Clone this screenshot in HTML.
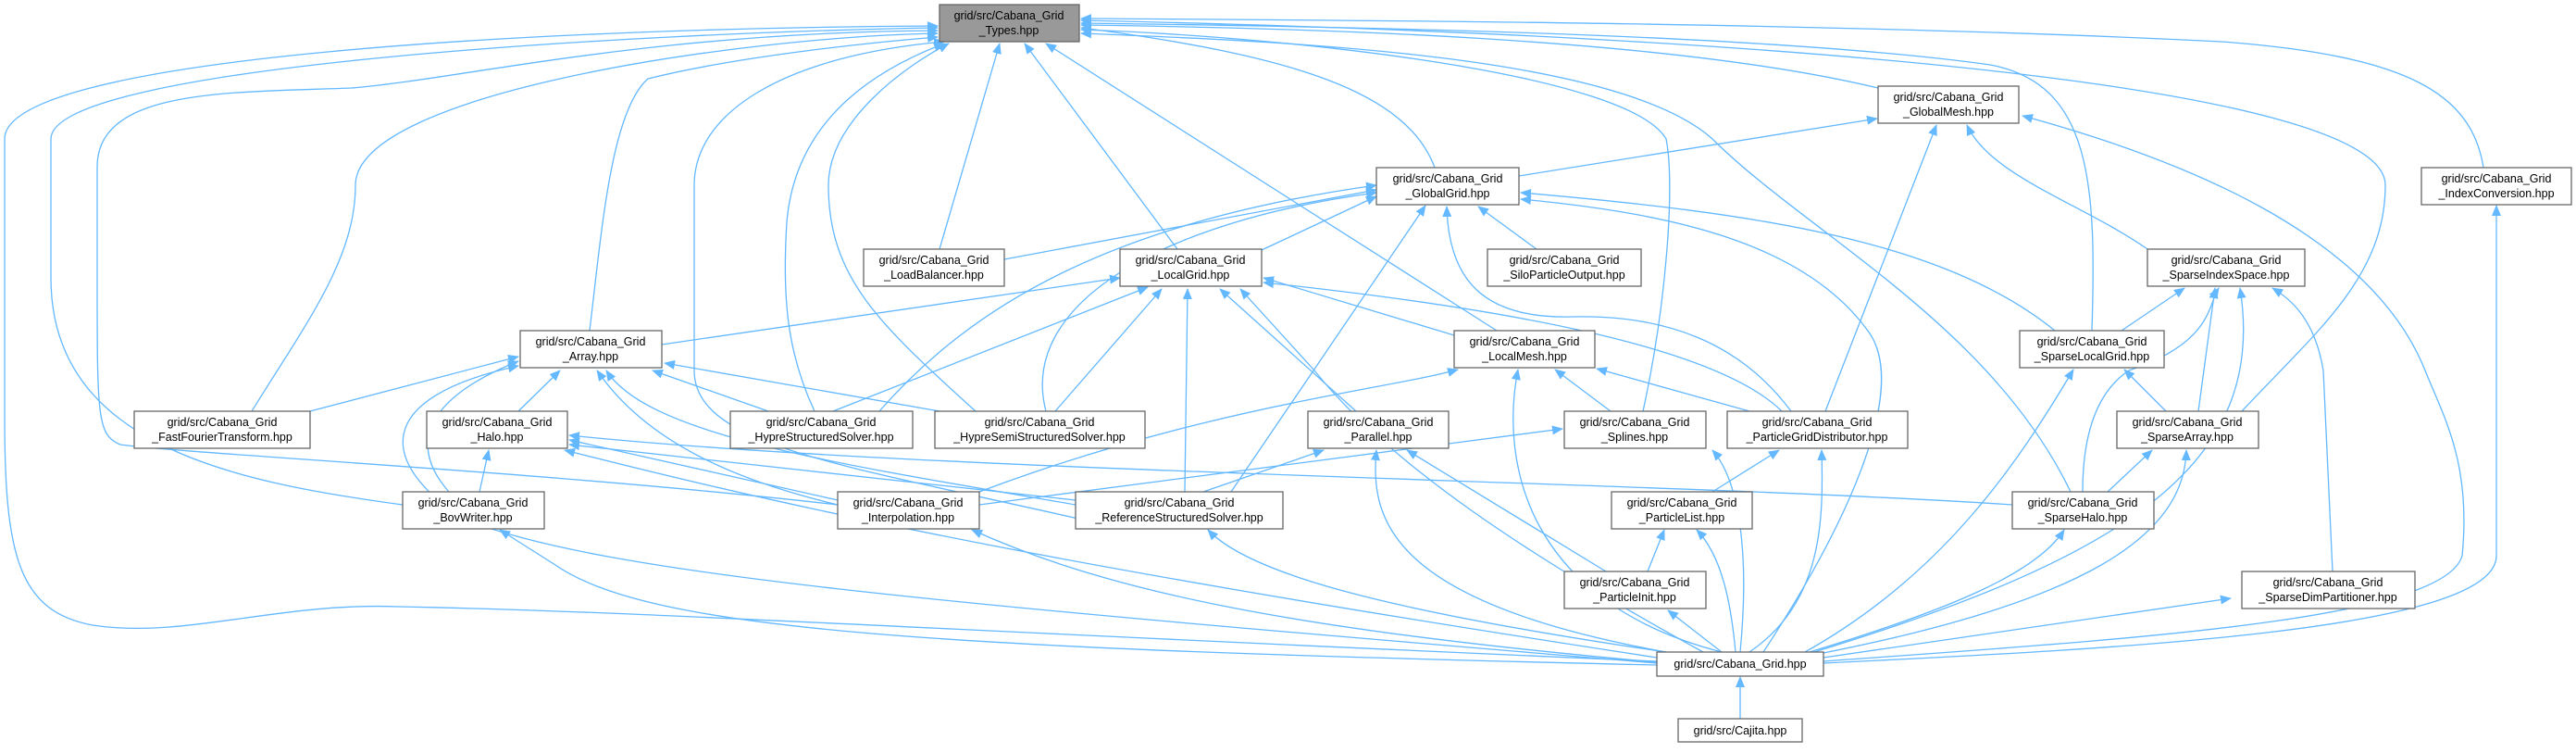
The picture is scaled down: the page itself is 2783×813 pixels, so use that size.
<!DOCTYPE html>
<html><head><meta charset="utf-8"><style>
html,body{margin:0;padding:0;background:#fff;}
svg{display:block}
text{font-family:"Liberation Sans","DejaVu Sans",sans-serif;font-size:12.5px;fill:#000;text-anchor:middle}
.e{fill:none;stroke:#63b8ff;stroke-width:1.3}
.n{fill:#fff;stroke:#666;stroke-width:1.3}
</style></head><body>
<svg width="2783" height="813" viewBox="0 0 2783 813" xmlns="http://www.w3.org/2000/svg">
<defs><marker id="a" markerWidth="12" markerHeight="10" refX="11" refY="5" orient="auto" markerUnits="userSpaceOnUse"><path d="M0,0 L12,5 L0,10 z" fill="#63b8ff"/></marker></defs>
<g class="e" marker-end="url(#a)">
<path d="M1790,714 C1000,680 700,660 430,655 C300,650 200,690 100,675 C20,660 5,600 5,450 L5,150 C5,60 600,30 1013,28"/>
<path d="M435,545 C250,520 55,480 55,300 L55,150 C55,70 700,35 1013,30"/>
<path d="M905,545 C600,510 200,490 130,480 C105,470 105,450 105,300 L105,180 C105,95 250,100 380,95 C500,85 700,35 1013,33"/>
<path d="M272,444 C330,350 384,280 384,200 C384,100 800,40 1013,36"/>
<path d="M637,357 C650,250 660,120 700,85 C800,60 950,45 1013,40"/>
<path d="M1165,560 C900,500 750,480 750,400 L750,200 C750,120 850,60 1020,45"/>
<path d="M880,444 C850,380 845,320 850,240 C860,120 960,70 1020,47"/>
<path d="M1054,444 C950,350 895,300 895,200 C895,130 980,70 1025,47"/>
<path d="M1015,269 L1080,47"/>
<path d="M1272,269 L1107,47"/>
<path d="M1617,357 L1130,47"/>
<path d="M1550,181 C1520,100 1400,60 1168,30"/>
<path d="M1775,444 C1800,330 1810,200 1800,150 C1760,80 1400,40 1168,32"/>
<path d="M2237,531 C2150,350 1950,250 1850,150 C1750,60 1400,45 1168,36"/>
<path d="M2029,95 C1800,40 1400,30 1168,27"/>
<path d="M2260,357 C2265,200 2260,90 2150,70 C1900,35 1400,28 1168,25"/>
<path d="M2422,444 C2500,360 2577,300 2577,200 C2577,100 2000,40 1168,22"/>
<path d="M2683,181 C2670,100 2600,60 2400,45 C2000,25 1500,22 1168,20"/>
<path d="M1641,190 L2028,128"/>
<path d="M1972,444 L2092,135"/>
<path d="M2320,269 C2250,220 2150,190 2125,135"/>
<path d="M1970,714 C2300,690 2640,670 2660,600 C2670,500 2640,450 2620,400 C2560,250 2350,170 2185,125"/>
<path d="M1970,716 C2300,700 2697,680 2697,600 L2697,222"/>
<path d="M1085,280 L1487,205"/>
<path d="M1363,270 L1487,212"/>
<path d="M950,444 C1050,330 1200,240 1487,200"/>
<path d="M1130,444 C1100,330 1250,240 1487,208"/>
<path d="M1330,531 L1540,222"/>
<path d="M1660,269 L1597,223"/>
<path d="M1935,444 C1880,370 1800,340 1700,342 C1600,345 1565,300 1563,223"/>
<path d="M2220,357 C2100,260 1900,230 1643,208"/>
<path d="M1905,704 C2000,560 2060,420 2020,360 C1950,260 1800,230 1643,215"/>
<path d="M715,372 L1210,300"/>
<path d="M900,444 L1240,310"/>
<path d="M1140,444 L1255,312"/>
<path d="M1280,531 L1283,312"/>
<path d="M1465,444 L1318,312"/>
<path d="M1571,362 L1365,300"/>
<path d="M1925,444 C1850,370 1600,330 1365,305"/>
<path d="M1840,704 C1650,600 1500,500 1420,400 L1340,312"/>
<path d="M335,444 L560,385"/>
<path d="M560,444 L605,400"/>
<path d="M485,531 C440,480 460,430 560,390"/>
<path d="M830,444 L705,400"/>
<path d="M1015,444 L718,392"/>
<path d="M905,545 C800,520 700,480 645,400"/>
<path d="M1162,545 C900,500 700,470 655,400"/>
<path d="M1790,716 C1000,650 650,620 500,560 C410,500 400,430 560,395"/>
<path d="M518,531 L528,486"/>
<path d="M905,540 L615,475"/>
<path d="M1162,540 L615,480"/>
<path d="M2174,545 C1800,520 1000,510 615,470"/>
<path d="M1790,710 C1200,620 900,560 610,486"/>
<path d="M1740,444 L1680,399"/>
<path d="M1890,444 L1725,398"/>
<path d="M1860,704 C1650,650 1620,500 1640,399"/>
<path d="M1058,531 C1300,440 1500,420 1575,399"/>
<path d="M1058,545 L1688,463"/>
<path d="M1880,704 C1890,600 1880,520 1850,486"/>
<path d="M1300,531 L1430,486"/>
<path d="M1735,617 L1520,486"/>
<path d="M1800,704 C1500,650 1480,560 1487,486"/>
<path d="M1850,531 L1922,486"/>
<path d="M1890,704 C1970,650 1970,560 1968,486"/>
<path d="M1780,617 L1798,572"/>
<path d="M1875,704 C1870,650 1860,600 1833,572"/>
<path d="M1860,704 L1802,659"/>
<path d="M2292,357 L2360,311"/>
<path d="M2375,444 L2393,311"/>
<path d="M2250,531 C2250,460 2270,420 2300,400 C2390,370 2385,330 2397,311"/>
<path d="M1960,704 C2300,600 2450,500 2420,311"/>
<path d="M2520,617 L2510,400 C2500,340 2470,320 2455,311"/>
<path d="M2340,444 L2295,399"/>
<path d="M1950,704 C2100,620 2180,500 2240,399"/>
<path d="M2277,531 L2325,486"/>
<path d="M1965,706 C2250,650 2360,580 2362,486"/>
<path d="M1955,704 C2100,660 2200,620 2230,572"/>
<path d="M1970,710 L2410,646"/>
<path d="M1790,718 C1000,700 700,680 600,610 L540,572"/>
<path d="M1790,715 C1400,680 1200,640 1050,572"/>
<path d="M1800,704 C1500,660 1350,620 1305,572"/>
<path d="M1880,776 L1880,731"/>
</g>
<g>
<rect x="1015" y="5" width="151" height="40" fill="#999" stroke="#666" stroke-width="1.3"/><text x="1090" y="21">grid/src/Cabana_Grid</text><text x="1090" y="37">_Types.hpp</text>
<rect class="n" x="933" y="269" width="152" height="40"/><text x="1009" y="285">grid/src/Cabana_Grid</text><text x="1009" y="301">_LoadBalancer.hpp</text>
<rect class="n" x="1210" y="269" width="153" height="40"/><text x="1286" y="285">grid/src/Cabana_Grid</text><text x="1286" y="301">_LocalGrid.hpp</text>
<rect class="n" x="562" y="357" width="153" height="40"/><text x="638" y="373">grid/src/Cabana_Grid</text><text x="638" y="389">_Array.hpp</text>
<rect class="n" x="2029" y="93" width="152" height="40"/><text x="2105" y="109">grid/src/Cabana_Grid</text><text x="2105" y="125">_GlobalMesh.hpp</text>
<rect class="n" x="1487" y="181" width="154" height="40"/><text x="1564" y="197">grid/src/Cabana_Grid</text><text x="1564" y="213">_GlobalGrid.hpp</text>
<rect class="n" x="2616" y="181" width="162" height="40"/><text x="2697" y="197">grid/src/Cabana_Grid</text><text x="2697" y="213">_IndexConversion.hpp</text>
<rect class="n" x="1607" y="269" width="166" height="40"/><text x="1690" y="285">grid/src/Cabana_Grid</text><text x="1690" y="301">_SiloParticleOutput.hpp</text>
<rect class="n" x="2320" y="269" width="170" height="40"/><text x="2405" y="285">grid/src/Cabana_Grid</text><text x="2405" y="301">_SparseIndexSpace.hpp</text>
<rect class="n" x="1571" y="357" width="152" height="40"/><text x="1647" y="373">grid/src/Cabana_Grid</text><text x="1647" y="389">_LocalMesh.hpp</text>
<rect class="n" x="2182" y="357" width="156" height="40"/><text x="2260" y="373">grid/src/Cabana_Grid</text><text x="2260" y="389">_SparseLocalGrid.hpp</text>
<rect class="n" x="145" y="444" width="190" height="40"/><text x="240" y="460">grid/src/Cabana_Grid</text><text x="240" y="476">_FastFourierTransform.hpp</text>
<rect class="n" x="461" y="444" width="152" height="40"/><text x="537" y="460">grid/src/Cabana_Grid</text><text x="537" y="476">_Halo.hpp</text>
<rect class="n" x="789" y="444" width="197" height="40"/><text x="887" y="460">grid/src/Cabana_Grid</text><text x="887" y="476">_HypreStructuredSolver.hpp</text>
<rect class="n" x="1010" y="444" width="227" height="40"/><text x="1123" y="460">grid/src/Cabana_Grid</text><text x="1123" y="476">_HypreSemiStructuredSolver.hpp</text>
<rect class="n" x="1413" y="444" width="152" height="40"/><text x="1489" y="460">grid/src/Cabana_Grid</text><text x="1489" y="476">_Parallel.hpp</text>
<rect class="n" x="1690" y="444" width="153" height="40"/><text x="1766" y="460">grid/src/Cabana_Grid</text><text x="1766" y="476">_Splines.hpp</text>
<rect class="n" x="1866" y="444" width="195" height="40"/><text x="1963" y="460">grid/src/Cabana_Grid</text><text x="1963" y="476">_ParticleGridDistributor.hpp</text>
<rect class="n" x="2287" y="444" width="153" height="40"/><text x="2363" y="460">grid/src/Cabana_Grid</text><text x="2363" y="476">_SparseArray.hpp</text>
<rect class="n" x="435" y="531" width="153" height="40"/><text x="511" y="547">grid/src/Cabana_Grid</text><text x="511" y="563">_BovWriter.hpp</text>
<rect class="n" x="905" y="531" width="153" height="40"/><text x="981" y="547">grid/src/Cabana_Grid</text><text x="981" y="563">_Interpolation.hpp</text>
<rect class="n" x="1162" y="531" width="224" height="40"/><text x="1274" y="547">grid/src/Cabana_Grid</text><text x="1274" y="563">_ReferenceStructuredSolver.hpp</text>
<rect class="n" x="1741" y="531" width="152" height="40"/><text x="1817" y="547">grid/src/Cabana_Grid</text><text x="1817" y="563">_ParticleList.hpp</text>
<rect class="n" x="2174" y="531" width="153" height="40"/><text x="2250" y="547">grid/src/Cabana_Grid</text><text x="2250" y="563">_SparseHalo.hpp</text>
<rect class="n" x="1690" y="617" width="153" height="40"/><text x="1766" y="633">grid/src/Cabana_Grid</text><text x="1766" y="649">_ParticleInit.hpp</text>
<rect class="n" x="2422" y="617" width="187" height="40"/><text x="2515" y="633">grid/src/Cabana_Grid</text><text x="2515" y="649">_SparseDimPartitioner.hpp</text>
<rect class="n" x="1790" y="704" width="180" height="26"/><text x="1880" y="721">grid/src/Cabana_Grid.hpp</text>
<rect class="n" x="1813" y="776" width="134" height="25"/><text x="1880" y="793">grid/src/Cajita.hpp</text>
</g>
</svg>
</body></html>
